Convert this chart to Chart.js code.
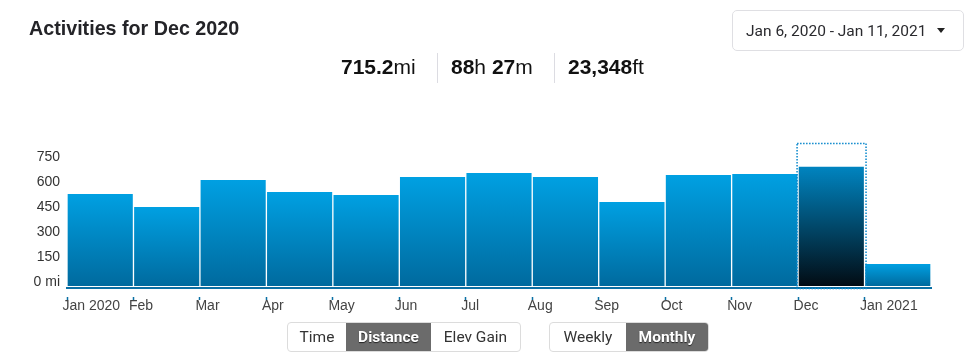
<!DOCTYPE html>
<html>
<head>
<meta charset="utf-8">
<script src="https://cdn.jsdelivr.net/npm/chart.js@4.4.1/dist/chart.umd.min.js"></script>
<style>
  body { margin: 0; width: 980px; height: 362px; position: relative; overflow: hidden; background: #fff;
         font-family: "Liberation Sans", Arial, sans-serif; color: #242428; }
  #chart { position: absolute; left: 0; top: 0; }
  .title { position: absolute; left: 29px; top: 16px; font-size: 19.7px; line-height: 24px; font-weight: bold; white-space: nowrap; }
  .stat { position: absolute; top: 55px; font-size: 21px; line-height: 24px; white-space: nowrap; color: #111; }
  .stat b { font-weight: bold; }
  .sep { position: absolute; top: 53px; width: 1px; height: 30px; background: #dcdce2; }
  .range { position: absolute; left: 732px; top: 10px; width: 232px; height: 41px; border: 1px solid #dfdfe3; border-radius: 5px; box-sizing: border-box; }
  .range span { position: absolute; left: 13px; top: 11px; font-family: Roboto, sans-serif; font-size: 15.5px; line-height: 18px; color: #2a2a2e; white-space: nowrap; }
  .caret { position: absolute; left: 204px; top: 17px; width: 0; height: 0; border-left: 4.5px solid transparent; border-right: 4.5px solid transparent; border-top: 5px solid #222; }
  .group { position: absolute; top: 322px; height: 30px; display: flex; border: 1px solid #dcdcdc; border-radius: 4px; box-sizing: border-box; overflow: hidden; }
  .group div { height: 28px; line-height: 28px; text-align: center; font-family: Roboto, sans-serif; font-size: 15.5px; color: #333; }
  .group .on { background: #6b6b6b; color: #fff; font-weight: bold; text-shadow: 0 1px 1px #222; }
</style>
</head>
<body>
<canvas id="chart" width="980" height="362"></canvas>

<div class="title">Activities for Dec 2020</div>

<div class="stat" style="left:341px"><b>715.2</b>mi</div>
<div class="sep" style="left:437px"></div>
<div class="stat" style="left:451px"><b>88</b>h <b>27</b>m</div>
<div class="sep" style="left:554px"></div>
<div class="stat" style="left:568px"><b>23,348</b>ft</div>

<div class="range"><span>Jan 6, 2020 - Jan 11, 2021</span><div class="caret"></div></div>

<div class="group" style="left:287px; width:234px">
  <div style="width:58px">Time</div>
  <div class="on" style="width:85px">Distance</div>
  <div style="width:89px">Elev Gain</div>
</div>
<div class="group" style="left:549px; width:160px">
  <div style="width:76px">Weekly</div>
  <div class="on" style="width:82px">Monthly</div>
</div>

<script>
// monthly distance, miles
const months = ['Jan 2020', 'Feb', 'Mar', 'Apr', 'May', 'Jun', 'Jul', 'Aug', 'Sep', 'Oct', 'Nov', 'Dec', 'Jan 2021'];
const distanceMi = [552, 474, 636, 564, 546, 654, 678, 654, 504, 666, 672, 715.2, 132];
const yTickValues = [0, 150, 300, 450, 600, 750];
const selectedIndex = 11; // Dec 2020

const axisBlue = '#0b6fa4';

function barGradient(ctx) {
  const chart = ctx.chart;
  const sel = ctx.dataIndex === selectedIndex;
  if (!chart.chartArea) return sel ? '#03283c' : '#0090d0';
  const y = chart.scales.y;
  const top = y.getPixelForValue(ctx.raw);
  const base = y.getPixelForValue(0);
  const g = chart.ctx.createLinearGradient(0, top, 0, base);
  if (sel) {
    g.addColorStop(0, 'rgb(0,132,192)');
    g.addColorStop(1, 'rgb(2,12,20)');
  } else {
    g.addColorStop(0, 'rgb(0,160,226)');
    g.addColorStop(1, 'rgb(0,106,158)');
  }
  return g;
}

// dotted frame round the selected month
const highlightBox = {
  id: 'highlightBox',
  afterDatasetsDraw(chart) {
    const x = chart.scales.x;
    const area = chart.chartArea;
    const half = (x.getPixelForValue(1) - x.getPixelForValue(0)) / 2;
    const cx = x.getPixelForValue(selectedIndex);
    const c = chart.ctx;
    c.save();
    c.strokeStyle = '#0a88cc';
    c.lineWidth = 1.5;
    c.setLineDash([1.5, 1.5]);
    c.strokeRect(cx - half - 1, area.top - 2.5, half * 2 + 2.5, area.bottom - area.top + 3);
    c.restore();
  }
};

new Chart(document.getElementById('chart'), {
  type: 'bar',
  data: {
    labels: months,
    datasets: [{
      data: distanceMi,
      backgroundColor: barGradient,
      borderWidth: 0,
      barPercentage: 1,
      categoryPercentage: 0.98
    }]
  },
  options: {
    responsive: false,
    animation: false,
    events: [],
    layout: { padding: { top: 146, right: 49, bottom: 44, left: 0 } },
    plugins: { legend: { display: false }, tooltip: { enabled: false } },
    scales: {
      x: {
        offset: true,
        grid: {
          offset: true,
          drawOnChartArea: false,
          tickLength: 12,
          tickWidth: 1.5,
          tickColor: c => c.index === undefined ? 'rgba(0,0,0,0)' : axisBlue,
          tickBorderDash: [0, 8, 3, 40]
        },
        border: { display: true, color: axisBlue, width: 2 },
        ticks: {
          align: 'start',
          labelOffset: -37.7,
          padding: -2,
          maxRotation: 0,
          autoSkip: false,
          color: '#444',
          font: { family: 'Liberation Sans', size: 14 }
        },
        afterFit: s => { s.height = 30; s.paddingLeft = 0; s.paddingRight = 0; }
      },
      y: {
        min: -12,
        max: 840,
        afterBuildTicks: s => { s.ticks = yTickValues.map(v => ({ value: v })); },
        grid: { display: false, drawTicks: false },
        border: { display: false },
        ticks: {
          padding: 7,
          labelOffset: -4,
          color: '#333',
          font: { family: 'Liberation Sans', size: 14 },
          callback: v => v === 0 ? '0 mi' : v
        },
        afterFit: s => { s.width = 67; s.paddingTop = 0; s.paddingBottom = 0; }
      }
    }
  },
  plugins: [highlightBox]
});
</script>
</body>
</html>
